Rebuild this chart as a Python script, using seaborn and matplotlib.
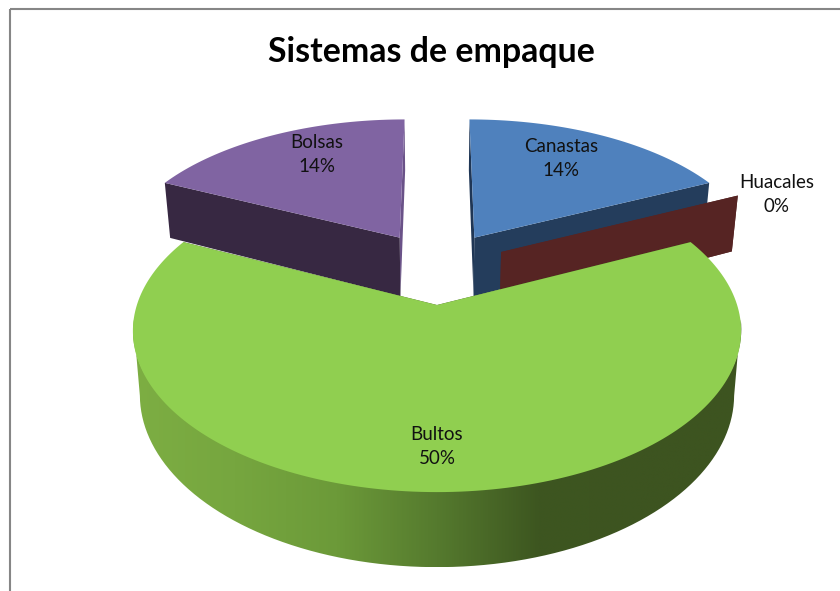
import numpy as np
import matplotlib
matplotlib.use("Agg")
import matplotlib.pyplot as plt
from matplotlib.collections import PolyCollection
from matplotlib.patches import PathPatch, Rectangle
from matplotlib.path import Path
from matplotlib.transforms import Transform
import seaborn as sns

title = "Sistemas de empaque"
categories = ["Canastas", "Huacales", "Bultos", "Bolsas"]
values = [14, 0, 50, 14]
percent_labels = ["14%", "0%", "50%", "14%"]
top_colors = ["#4F81BD", "#C0504D", "#90CF50", "#8064A2"]
# wall colour at the wedge's first and second radial edge
edge_colors = [("#243D5C", "#1F3655"), ("#562423", "#562423"),
               ("#3D5420", "#3D5420"), ("#6A5288", "#372842")]
rim_stops = ["#7DAE43", "#76A63F", "#6C9A39", "#557A2E", "#3D5620", "#3D5420", "#3D5420"]
label_xy = [(561, 158), (777, 194), (437, 446), (317, 154)]

sns.set_theme(style="white")
plt.rcParams["font.family"] = ["Lato", "DejaVu Sans"]

# camera of the 3-D pie
CX, CY, A, B, C, P, Q = 437.0, 267.3, 288.5, 145.0, 60.5, 0.155, 0.022


def project(x, y, z=0.0):
    x, y, z = np.asarray(x, float), np.asarray(y, float), np.asarray(z, float)
    w = 1 + P * y
    return CX + A * x / (w - Q * z), CY - (B * y + C * z) / w


class TopFace(Transform):
    input_dims = output_dims = 2
    is_affine = False

    def transform_non_affine(self, values):
        values = np.asarray(values, float)
        px, py = project(values[:, 0], values[:, 1])
        return np.column_stack([px, py])

    def transform_path_non_affine(self, path):
        pts = [bez(np.linspace(0, 1, 24)) for bez, _ in path.iter_bezier()]
        return Path(self.transform_non_affine(np.vstack(pts)), closed=False)


fig = plt.figure(figsize=(8.4, 5.91), dpi=100, facecolor="white")
ax = fig.add_axes([0, 0, 1, 1])
wedges, _ = ax.pie(values, startangle=90, counterclock=False, radius=1.0,
                   explode=[0.25, 0.25, 0.25, 0.25], colors=top_colors, frame=True,
                   wedgeprops={"linewidth": 0})
ax.set_aspect("auto")
ax.set_autoscale_on(False)
ax.set_xlim(0, 840)
ax.set_ylim(591, 0)
ax.axis("off")

rim_cmap = sns.blend_palette(rim_stops, as_cmap=True)
depth = {"Bolsas": 1, "Canastas": 2, "Huacales": 3, "Bultos": 4}

for name, wedge, colors in zip(categories, wedges, edge_colors):
    cx, cy = wedge.center
    r = wedge.r
    t1, t2 = np.radians(wedge.theta1), np.radians(wedge.theta2)
    z0 = depth[name]
    # radial walls
    for t, col in zip((t1, t2), colors):
        xs = np.array([cx, cx + r * np.cos(t), cx + r * np.cos(t), cx])
        ys = np.array([cy, cy + r * np.sin(t), cy + r * np.sin(t), cy])
        zs = np.array([0, 0, -1, -1])
        px, py = project(xs, ys, zs)
        ax.add_collection(PolyCollection([np.column_stack([px, py])], facecolors=col,
                                         edgecolors="none", zorder=z0))
    # outer rim: only Bultos turns its rim towards the viewer
    if name == "Bultos":
        ang = np.linspace(t1, t2, 400)
        ang = ang[np.sin(ang) < -0.1]
        xs, ys = cx + r * np.cos(ang), cy + r * np.sin(ang)
        # the upper curve starts just above the face's edge, so no seam shows
        up = np.column_stack(project(xs, ys, np.full_like(xs, 0.03)))
        low = np.column_stack(project(xs, ys, np.full_like(xs, -1.0)))
        # the lower curve runs only between its extremes: the silhouette is tangent
        low = low[np.argmin(low[:, 0]):np.argmax(low[:, 0]) + 1]
        outline = np.vstack([up, low[::-1]])
        x0, x1 = outline[:, 0].min(), outline[:, 0].max()
        y0, y1 = outline[:, 1].min(), outline[:, 1].max()
        im = ax.imshow(np.linspace(0, 1, 512)[None, :], cmap=rim_cmap, aspect="auto",
                       extent=[x0, x1, y1, y0], zorder=z0 + 0.1, interpolation="bilinear")
        im.set_clip_path(PathPatch(Path(outline, closed=False), transform=ax.transData))
    wedge.set_transform(TopFace() + ax.transData)
    wedge.set_zorder(z0 + 0.5)

ax.set_xlim(0, 840)
ax.set_ylim(591, 0)

ax.add_patch(Rectangle((10, 9), 900, 700, fill=False, edgecolor="#868686", linewidth=1.5, zorder=0.5))

for name, pct, (x, y) in zip(categories, percent_labels, label_xy):
    ax.text(x, y, f"{name}\n{pct}", ha="center", va="center", fontsize=13.5,
            linespacing=1.5, color="#111111", zorder=10)

ax.text(431.5, 52, title, ha="center", va="center", fontsize=24.4, fontweight="bold",
        color="black", zorder=10)

fig.savefig("out.png", dpi=100)
